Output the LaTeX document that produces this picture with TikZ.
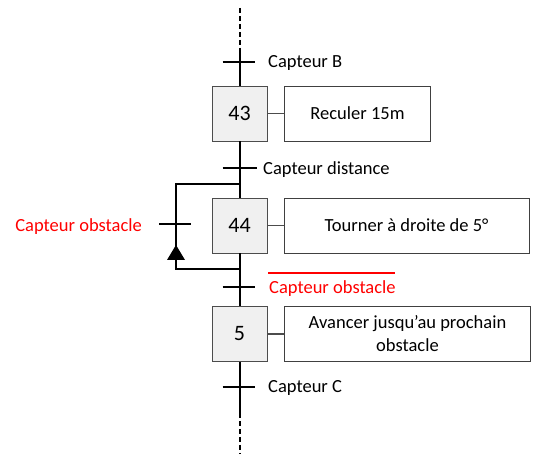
\documentclass[tikz,border=0pt]{standalone}
\usepackage{fontspec}
\setmainfont{Carlito}
\begin{document}
\begin{tikzpicture}[x=1pt,y=-1pt,
  flow/.style={line width=2pt},
  tick/.style={line width=2pt},
  stepbox/.style={draw=black!70, fill=black!6, line width=0.9pt, minimum width=55pt, minimum height=55pt, inner sep=0pt, font=\fontsize{22}{24}\selectfont},
  actbox/.style={draw=black!75, line width=0.9pt, minimum height=55pt, inner sep=2pt, align=center, font=\fontsize{18.5}{23}\selectfont},
  lbl/.style={font=\fontsize{18.5}{21}\selectfont, anchor=west, inner sep=0pt},
  link/.style={draw=black!70, line width=1.2pt}
]
\useasboundingbox (0,0) rectangle (550,470);
% steps
\node[stepbox] (s43) at (239.5,113.5) {43};
\node[stepbox] (s44) at (239.5,225.5) {44};
\node[stepbox] (s5) at (239.5,334) {5};
% actions
\node[actbox, minimum width=146pt] (a43) at (357.5,113.5) {Reculer 15m};
\node[actbox, minimum width=245pt] (a44) at (406.5,225.5) {Tourner à droite de 5°};
\node[actbox, minimum width=246pt] (a5) at (407.5,334) {Avancer jusqu’au prochain\\obstacle};
\draw[link] (s43.east) -- (a43.west);
\draw[link] (s44.east) -- (a44.west);
\draw[link] (s5.east) -- (a5.west);
% coordinates on main line
\coordinate (top) at (239.5,8);
\coordinate (t0) at (239.5,48);
\coordinate (tB) at (239.5,62);
\coordinate (tD) at (239.5,168);
\coordinate (lt) at (239.5,184);
\coordinate (lb) at (239.5,269);
\coordinate (tO) at (239.5,287);
\coordinate (tC) at (239.5,387);
\coordinate (b0) at (239.5,413);
\coordinate (bot) at (239.5,454);
% main flow
\draw[flow, dash pattern=on 5pt off 3pt] (top) -- (t0);
\draw[flow] (t0) -- (s43.north);
\draw[flow] (s43.south) -- (s44.north);
\draw[flow] (s44.south) -- (s5.north);
\draw[flow] (s5.south) -- (b0);
\draw[flow, dash pattern=on 5pt off 3pt] (b0) -- (bot);
% transitions
\draw[tick] ([xshift=-17pt]tB) -- ([xshift=15pt]tB);
\draw[tick] ([xshift=-17pt]tD) -- ([xshift=17pt]tD);
\draw[tick] ([xshift=-17pt]tO) -- ([xshift=15pt]tO);
\draw[tick] ([xshift=-17pt]tC) -- ([xshift=15pt]tC);
% loop
\coordinate (llt) at (176,184);
\coordinate (llb) at (176,269);
\coordinate (lT) at (176,224);
\coordinate (arr) at (176,245);
\draw[flow] (lb) -- (llb) -- (llt) -- (lt);
\draw[tick] ([xshift=-17pt]lT) -- ([xshift=15pt]lT);
\fill (arr) -- ([xshift=-9pt,yshift=-15pt]arr) -- ([xshift=9pt,yshift=-15pt]arr) -- cycle;
% labels
\node[lbl] (lB) at (268,63) {Capteur B};
\node[lbl] (lD) at (263,170) {Capteur distance};
\node[lbl, anchor=east, text=red] (lOL) at (142,227) {Capteur obstacle};
\node[lbl, text=red] (lO) at (269,289) {Capteur obstacle};
\node[lbl] (lC) at (268,388) {Capteur C};
\draw[red, line width=1.5pt] (268,273) -- (395,273);
\end{tikzpicture}
\end{document}
